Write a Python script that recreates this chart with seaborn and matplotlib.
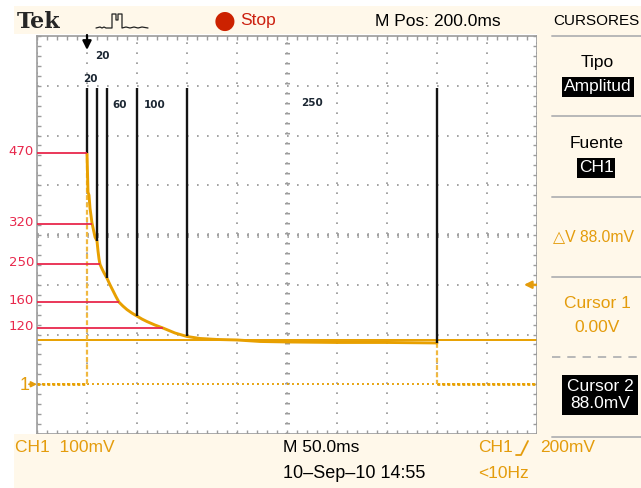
import numpy as np
import pandas as pd
import matplotlib
matplotlib.use("Agg")
import matplotlib.pyplot as plt
import seaborn as sns
from matplotlib.lines import Line2D
from matplotlib.patches import Rectangle

# ---------------- data (time in ms from trigger, amplitude in mV) ----------------
rise_t = [0, 0]
rise_mv = [0, 464]
decay_t = [0, 1, 2, 3, 5, 8, 10, 11, 12, 13, 15, 17, 20, 23, 26, 29, 32, 36, 40, 45, 50,
           55, 60, 68, 76, 88, 100, 113, 130, 150, 173, 200, 250, 300, 350]
decay_mv = [464, 386, 380, 354, 324, 296, 288, 268, 252, 241, 232, 224, 213, 200, 188, 176, 165, 157, 150, 143, 137,
            131, 126, 119, 113, 103, 96, 92, 90, 89, 86, 85, 84, 84, 83]
fall_t = [350, 350]
fall_mv = [83, 0]
pre_t = [-50, 0]
pre_mv = [0, 0]
post_t = [350, 450]
post_mv = [0, 0]

cursor1_mv = 0
cursor2_mv = 88
trigger_level_mv = 200

marker_t = [0, 10, 20, 50, 100, 350]
marker_bottom_mv = [464, 288, 213, 137, 96, 83]
marker_top_mv = [596, 596, 596, 596, 596, 596]

marker_labels = ["20", "20", "60", "100", "250"]
marker_label_t = [15, 3, 33, 68, 225]
marker_label_mv = [660, 614, 562, 562, 566]

level_labels = ["470", "320", "250", "160", "120"]
level_mv = [464, 322, 241, 165, 113]
level_end_t = [0, 5, 13, 32, 76]

# ---------------- style ----------------
sns.set_style("white")
plt.rcParams['lines.scale_dashes'] = False
UI = ['Liberation Sans', 'DejaVu Sans']
plt.rcParams['font.family'] = UI

W, H = 641, 488
PX = 0.72  # points per pixel at dpi 100
CREAM = '#FFF8EA'
TRACE = '#E8A000'
ORANGE = '#E49C0C'
RED = '#E8284C'
GRID = '#9C9C9C'


def fx(x):
    return x / W


def fy(y):
    return 1 - y / H


fig = plt.figure(figsize=(W / 100, H / 100), dpi=100, facecolor='white')

# cream instrument panels
for (x0, y0, x1, y1) in [(14, 6, 641, 34), (537, 6, 641, 488), (14, 434, 641, 488)]:
    fig.patches.append(Rectangle((fx(x0), fy(y1)), (x1 - x0) / W, (y1 - y0) / H,
                                 transform=fig.transFigure, facecolor=CREAM,
                                 edgecolor='none', zorder=0))

ax = fig.add_axes([fx(37), fy(434), 500 / W, 398 / H])
ax.set_facecolor('white')
ax.set_xlim(-50, 450)
ax.set_ylim(-100, 700)
ax.set_xticks(np.arange(-50, 451, 50))
ax.set_yticks(np.arange(-100, 701, 100))
ax.set_xticks(np.arange(-50, 451, 10), minor=True)
ax.set_yticks(np.arange(-100, 701, 20), minor=True)
ax.tick_params(which='both', direction='in', top=True, right=True, bottom=True, left=True,
               labelbottom=False, labelleft=False, color=GRID, width=1.0, length=3.2)
ax.grid(True, which='major', color=GRID, lw=1.3, linestyle=(0, (1.2, 6.0)))
for s in ax.spines.values():
    s.set_color(GRID)
    s.set_linewidth(1.2)
ax.set_xlabel('')
ax.set_ylabel('')

# center graticule with tick marks
ax.axvline(200, color=GRID, lw=5 * PX, linestyle=(0, (1.6 * PX, 8.4 * PX)), zorder=1)
ax.axhline(300, color=GRID, lw=5 * PX, linestyle=(0, (1.3 * PX, 8.7 * PX)), zorder=1)

# cursors
ax.axhline(cursor1_mv, color=TRACE, lw=1.3, linestyle=(0, (1.4, 2.2)), zorder=2)
ax.axhline(cursor2_mv, color=TRACE, lw=1.4, zorder=2)

# waveform
sns.lineplot(x=pre_t, y=pre_mv, ax=ax, color=TRACE, lw=2.0, linestyle=(0, (2.0, 1.6)),
             estimator=None, sort=False, zorder=3)
sns.lineplot(x=post_t, y=post_mv, ax=ax, color=TRACE, lw=2.0, linestyle=(0, (2.0, 1.6)),
             estimator=None, sort=False, zorder=3)
sns.lineplot(x=rise_t, y=rise_mv, ax=ax, color='#F0B840', lw=1.6, linestyle=(0, (3.5, 1.8)),
             estimator=None, sort=False, zorder=3)
sns.lineplot(x=fall_t, y=fall_mv, ax=ax, color='#F0B840', lw=1.6, linestyle=(0, (3.5, 1.8)),
             estimator=None, sort=False, zorder=3)
sns.lineplot(x=decay_t, y=decay_mv, ax=ax, color=TRACE, lw=2.1,
             estimator=None, sort=False, zorder=4)

# black marker lines
ax.vlines(marker_t, marker_bottom_mv, marker_top_mv, color='#141414', lw=1.7, zorder=5)
for s, t, v in zip(marker_labels, marker_label_t, marker_label_mv):
    ax.text(t, v, s, ha='center', va='center', fontsize=7.5, fontweight='bold',
            color='#1c2733', family='DejaVu Sans', zorder=6)

# red level lines and labels
ax.hlines(level_mv, -50, level_end_t, color=RED, lw=1.3, zorder=5)
for s, v in zip(level_labels, level_mv):
    ax.text(-53, v + 3, s, ha='right', va='center', fontsize=9.5, color=RED,
            family='DejaVu Sans', clip_on=False)

# trigger position arrow (top)
ax.annotate('', xy=(0, 672), xytext=(0, 702),
            arrowprops=dict(arrowstyle='-|>', color='black', lw=1.6, mutation_scale=13,
                            shrinkA=0, shrinkB=0), annotation_clip=False)
# ground marker
ax.annotate('', xy=(-50, cursor1_mv), xytext=(-58, cursor1_mv),
            arrowprops=dict(arrowstyle='-|>', color=ORANGE, lw=1.3, mutation_scale=8,
                            shrinkA=0, shrinkB=0), annotation_clip=False)
fig.text(fx(25), fy(385), '1', color=ORANGE, fontsize=13, ha='center', va='center')
# trigger level arrow (right)
ax.annotate('', xy=(437, trigger_level_mv), xytext=(450, trigger_level_mv),
            arrowprops=dict(arrowstyle='-|>', color=ORANGE, lw=1.6, mutation_scale=11,
                            shrinkA=0, shrinkB=0), annotation_clip=False)

# ---------------- top bar ----------------
fig.text(fx(17), fy(22), 'Tek', family=['DejaVu Serif'], fontweight='bold', fontsize=16,
         ha='left', va='center')
icon_x = [96, 100, 102, 104, 106, 110, 112, 112, 116, 116, 118, 118, 122, 122, 126, 130, 134, 138, 142, 148]
icon_y = [28, 27, 28, 27, 28, 28, 28, 14, 14, 20, 20, 14, 14, 28, 27, 28, 27, 28, 27, 28]
fig.add_artist(Line2D([fx(v) for v in icon_x], [fy(v) for v in icon_y], color='#222222',
                      lw=0.9, transform=fig.transFigure))
fig.text(fx(225), fy(21), '\u25CF', color='#CC2200', fontsize=18, ha='center', va='center',
         family='DejaVu Sans')
fig.text(fx(240), fy(21), 'Stop', color='#CC2010', fontsize=12.5, ha='left', va='center')
fig.text(fx(375), fy(21), 'M Pos: 200.0ms', color='black', fontsize=12.5, ha='left', va='center')
fig.text(fx(553), fy(21), 'CURSORES', color='black', fontsize=11, ha='left', va='center')

# ---------------- right menu ----------------
for yy in [36, 116, 197, 277, 437]:
    fig.add_artist(Line2D([fx(552), fx(641)], [fy(yy), fy(yy)], color='#B8B8B8', lw=1.4,
                          transform=fig.transFigure))
fig.add_artist(Line2D([fx(552), fx(641)], [fy(357), fy(357)], color='#B8B8B8', lw=1.4,
                      linestyle=(0, (6, 5)), transform=fig.transFigure))

box = dict(facecolor='black', edgecolor='none', pad=1.5)
fig.text(fx(597), fy(63), 'Tipo', fontsize=12.5, ha='center', va='center', color='black')
fig.text(fx(598), fy(87), 'Amplitud', fontsize=12.5, ha='center', va='center', color='white', bbox=box)
fig.text(fx(597), fy(143), 'Fuente', fontsize=12.5, ha='center', va='center', color='black')
fig.text(fx(596), fy(168), 'CH1', fontsize=12.5, ha='center', va='center', color='white', bbox=box)
fig.text(fx(553), fy(237), '\u25B3V 88.0mV', fontsize=11.3, ha='left', va='center', color=ORANGE)
fig.text(fx(597), fy(303), 'Cursor 1', fontsize=12.5, ha='center', va='center', color=ORANGE)
fig.text(fx(597), fy(327), '0.00V', fontsize=12.5, ha='center', va='center', color=ORANGE)
fig.text(fx(600), fy(395), 'Cursor 2\n88.0mV', fontsize=12.5, ha='center', va='center',
         color='white', linespacing=1.1, bbox=dict(facecolor='black', edgecolor='none', pad=3))

# ---------------- bottom bar ----------------
fig.text(fx(15), fy(448), 'CH1  100mV', fontsize=12.5, ha='left', va='center', color=ORANGE)
fig.text(fx(283), fy(448), 'M 50.0ms', fontsize=12.5, ha='left', va='center', color='black')
fig.text(fx(478), fy(448), 'CH1', fontsize=12.5, ha='left', va='center', color=ORANGE)
fig.add_artist(Line2D([fx(516), fx(521), fx(528)], [fy(455), fy(455), fy(441)], color=ORANGE,
                      lw=1.3, transform=fig.transFigure))
fig.text(fx(540), fy(448), '200mV', fontsize=12.5, ha='left', va='center', color=ORANGE)
fig.text(fx(283), fy(474), '10\u2013Sep\u201310 14:55', fontsize=13, ha='left', va='center', color='black')
fig.text(fx(478), fy(474), '<10Hz', fontsize=12.5, ha='left', va='center', color=ORANGE)

fig.savefig('out.png', dpi=100, facecolor='white')
